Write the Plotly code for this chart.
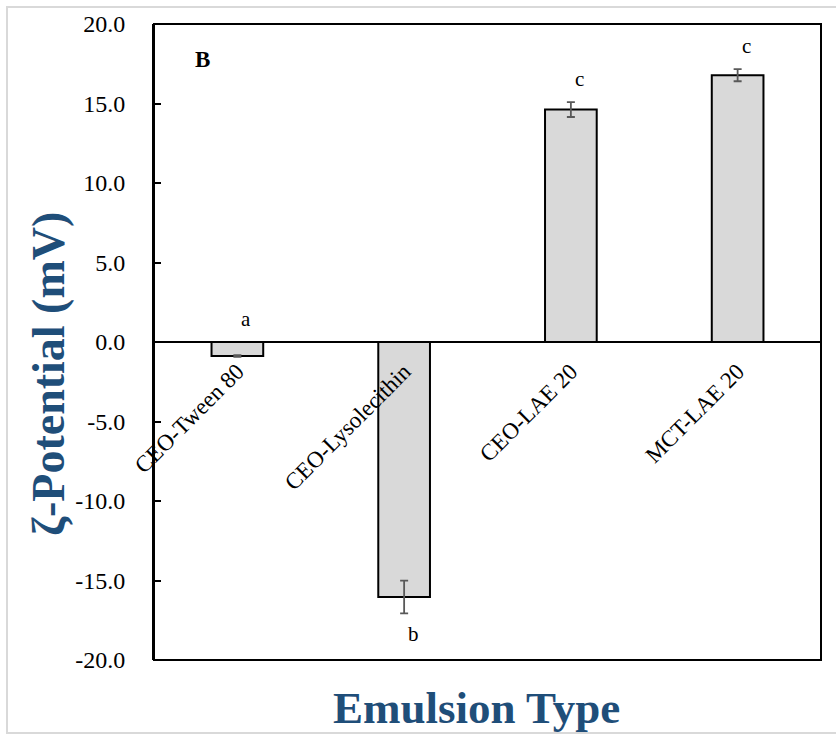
import plotly.graph_objects as go

categories = ["CEO-Tween 80", "CEO-Lysolecithin", "CEO-LAE 20", "MCT-LAE 20"]
zeta_mV = [-0.88, -16.04, 14.62, 16.78]
zeta_err = [0.05, 1.03, 0.47, 0.38]
letters = ["a", "b", "c", "c"]
letter_side = ["above", "below", "above", "above"]
y_ticks = [-20, -15, -10, -5, 0, 5, 10, 15, 20]
y_tick_text = [f"{v:.1f}" for v in y_ticks]

W, H = 836, 735
ML, MR, MT, MB = 154, 15, 24, 75
PW, PH = W - ML - MR, H - MT - MB
SERIF = "Liberation Serif, Times New Roman, serif"
BLUE = "#1F4E79"

fig = go.Figure()
fig.add_trace(go.Bar(
    x=categories, y=zeta_mV,
    marker=dict(color="#D9D9D9", line=dict(color="black", width=2)),
    error_y=dict(type="data", array=zeta_err, visible=True,
                 color="#595959", thickness=1.8, width=4),
    width=0.31,
    showlegend=False,
))

annotations = []
for cat, v, e, lab, side in zip(categories, zeta_mV, zeta_err, letters, letter_side):
    if side == "above":
        yy = max(0, v + e)
        ys = 23
    else:
        yy = v - e
        ys = -21
    annotations.append(dict(x=cat, y=yy, xref="x", yref="y", text=lab,
                            showarrow=False, xshift=9, yshift=ys,
                            xanchor="center", yanchor="middle",
                            font=dict(family=SERIF, size=21, color="black")))

annotations.append(dict(x=(202 - ML) / PW, y=(H - MB - 60) / PH, xref="paper", yref="paper",
                        text="<b>B</b>", showarrow=False,
                        xanchor="center", yanchor="middle",
                        font=dict(family=SERIF, size=23, color="black")))
annotations.append(dict(x=(48 - ML) / PW, y=(H - MB - 374) / PH, xref="paper", yref="paper",
                        text="<b>ζ-Potential (mV)</b>", textangle=-90, showarrow=False,
                        xanchor="center", yanchor="middle",
                        font=dict(family=SERIF, size=46, color=BLUE)))
annotations.append(dict(x=(476 - ML) / PW, y=(H - MB - 708) / PH, xref="paper", yref="paper",
                        text="<b>Emulsion Type</b>", showarrow=False,
                        xanchor="center", yanchor="middle",
                        font=dict(family=SERIF, size=45, color=BLUE)))

shapes = [
    dict(type="rect", xref="paper", yref="paper", x0=0, x1=1, y0=0, y1=1,
         line=dict(color="black", width=2), fillcolor="rgba(0,0,0,0)", layer="above"),
    dict(type="rect", xref="paper", yref="paper",
         x0=(7 - ML) / PW, x1=(W + 30 - ML) / PW,
         y0=(H - MB - 733) / PH, y1=(H - MB - 7) / PH,
         line=dict(color="#D9D9D9", width=2), fillcolor="rgba(0,0,0,0)", layer="below"),
]

fig.update_layout(
    width=W, height=H,
    margin=dict(l=ML, r=MR, t=MT, b=MB, autoexpand=False),
    paper_bgcolor="white", plot_bgcolor="white",
    annotations=annotations, shapes=shapes,
    font=dict(family=SERIF, color="black"),
    xaxis=dict(
        type="category", anchor="free", position=0.5,
        range=[-0.5, 3.5],
        showline=True, linecolor="black", linewidth=1.8,
        ticks="", tickangle=-45, ticklabelstandoff=6,
        tickfont=dict(family=SERIF, size=23, color="black"),
        showgrid=False, zeroline=False, automargin=False,
    ),
    yaxis=dict(
        range=[-20, 20], tickvals=y_ticks, ticktext=y_tick_text,
        showline=True, linecolor="black", linewidth=2,
        ticks="inside", ticklen=7, tickwidth=1.5, tickcolor="black",
        ticklabelstandoff=22,
        tickfont=dict(family=SERIF, size=24, color="black"),
        showgrid=False, zeroline=False, automargin=False,
    ),
)

fig.write_html("out.html")
